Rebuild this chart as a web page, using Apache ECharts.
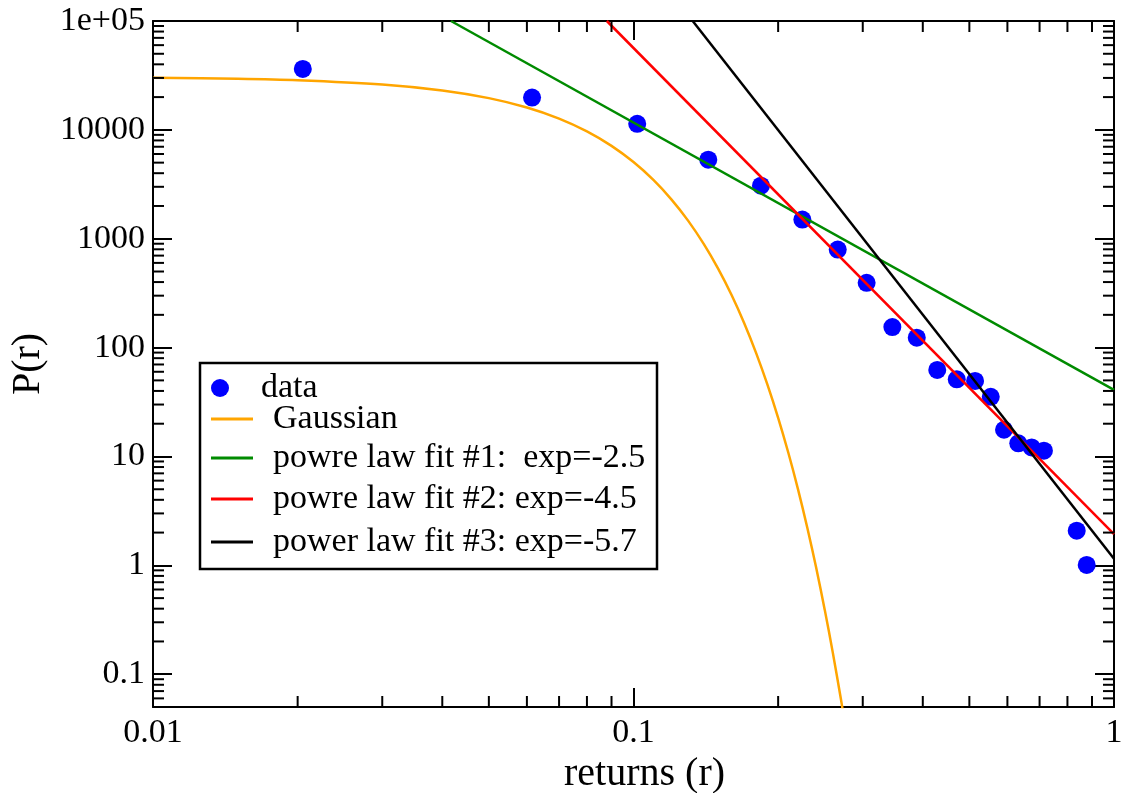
<!DOCTYPE html>
<html>
<head>
<meta charset="utf-8">
<script src="https://cdn.jsdelivr.net/npm/echarts@6/dist/echarts.min.js"></script>
<style>
  html, body { margin: 0; padding: 0; background: #fff; }
  #chart { width: 1130px; height: 793px; }
</style>
</head>
<body>
<div id="chart"></div>
<script>
// Measured return-size distribution
const returnsR = [0.0205, 0.0615, 0.1018, 0.1431, 0.1842, 0.2246, 0.2661, 0.3056, 0.3457, 0.3886,
                  0.4287, 0.4707, 0.5139, 0.554, 0.5903, 0.6322, 0.674, 0.7148, 0.8364, 0.8774];
const probR = [36300, 19800, 11370, 5320, 3073, 1500, 796, 394, 154.5, 123.5,
               62.3, 51.2, 49.4, 35.3, 17.6, 13.2, 12.1, 11.3, 2.08, 1.01];

// Gaussian reference curve
const gaussR = [0.01, 0.015, 0.02, 0.03, 0.04, 0.05, 0.06, 0.07, 0.08, 0.09, 0.10, 0.11, 0.12,
                0.13, 0.14, 0.15, 0.16, 0.17, 0.18, 0.19, 0.20, 0.21, 0.22, 0.23, 0.24, 0.25,
                0.26, 0.27, 0.275];
const gaussP = [30150, 29480, 28560, 26100, 23010, 19560, 16040, 12690, 9683, 7127, 5059, 3465, 2289,
                1459, 896, 531, 303.8, 167.5, 89.1, 45.7, 22.65, 10.82, 4.99, 2.214, 0.949, 0.392,
                0.1563, 0.0601, 0.0368];

// Power-law fits (straight lines on log-log axes)
const fit1R = [0.0417, 1];   const fit1P = [100000, 40.9];
const fit2R = [0.0880, 1];   const fit2P = [100000, 1.94];
const fit3R = [0.1328, 1];   const fit3P = [100000, 1.15];

const seriesNames = [
  'data',
  'Gaussian',
  'powre law fit #1:  exp=-2.5',
  'powre law fit #2: exp=-4.5',
  'power law fit #3: exp=-5.7'
];
const seriesColors = ['#0000ff', '#ffa500', '#008b00', '#ff0000', '#000000'];

const X_MIN = 0.01, X_MAX = 1, Y_MIN = 0.05, Y_MAX = 100000;

// Minor tick values: 2..9 within every decade
const xDecades = [0.01, 0.1];
const yDecades = [0.01, 0.1, 1, 10, 100, 1000, 10000];
const minorMults = [2, 3, 4, 5, 6, 7, 8, 9];
function minorTicks(decades, lo, hi) {
  const out = [];
  decades.forEach(d => minorMults.forEach(m => {
    const v = +(d * m).toPrecision(6);
    if (v > lo && v < hi) out.push(v);
  }));
  return out;
}
const xMinorTicks = minorTicks(xDecades, X_MIN, X_MAX);
const yMinorTicks = minorTicks(yDecades, Y_MIN, Y_MAX);

const FONT = '"Liberation Serif", "Times New Roman", serif';
const MAJOR_LEN = 19, MINOR_LEN = 11;

const pairs = (xs, ys) => xs.map((x, i) => [x, ys[i]]);

const tickStyle = { stroke: '#000', lineWidth: 2 };

function renderXMinor(params, api) {
  const v = api.value(0);
  const b = api.coord([v, Y_MIN]);
  const t = api.coord([v, Y_MAX]);
  return {
    type: 'group',
    children: [
      { type: 'line', shape: { x1: b[0], y1: b[1], x2: b[0], y2: b[1] - MINOR_LEN }, style: tickStyle },
      { type: 'line', shape: { x1: t[0], y1: t[1], x2: t[0], y2: t[1] + MINOR_LEN }, style: tickStyle }
    ]
  };
}
function renderYMinor(params, api) {
  const v = api.value(1);
  const l = api.coord([X_MIN, v]);
  const r = api.coord([X_MAX, v]);
  return {
    type: 'group',
    children: [
      { type: 'line', shape: { x1: l[0], y1: l[1], x2: l[0] + MINOR_LEN, y2: l[1] }, style: tickStyle },
      { type: 'line', shape: { x1: r[0], y1: r[1], x2: r[0] - MINOR_LEN, y2: r[1] }, style: tickStyle }
    ]
  };
}

const axisLineStyle = { show: true, lineStyle: { color: '#000', width: 2 } };
const axisTickStyle = { show: true, inside: true, length: MAJOR_LEN, lineStyle: { color: '#000', width: 2 } };

function fmt(v) {
  if (v >= 99999) return '1e+05';
  return String(parseFloat(Number(v).toPrecision(6)));
}

// One legend block per entry so the rows sit at their own heights
const legendRowCenters = [388, 419, 458, 499, 542];
const legends = seriesNames.map((name, i) => ({
  data: [name],
  left: 211,
  top: legendRowCenters[i] - 17,
  padding: 0,
  itemWidth: 42,
  itemHeight: i === 0 ? 18 : 3,
  icon: i === 0 ? 'circle' : 'rect',
  selectedMode: false,
  textStyle: { fontFamily: FONT, fontSize: 34, color: '#000', padding: [0, 0, 0, 15] }
}));

const chart = echarts.init(document.getElementById('chart'), null, { renderer: 'canvas' });

chart.setOption({
  animation: false,
  backgroundColor: '#fff',
  grid: { left: 153, right: 16, top: 21, bottom: 86, containLabel: false, outerBoundsMode: 'none' },
  legend: legends,
  graphic: [{
    type: 'rect',
    shape: { x: 200, y: 363, width: 457, height: 206 },
    style: { fill: '#fff', stroke: '#000', lineWidth: 2.5 },
    z: 0
  }],
  xAxis: [{
    type: 'log',
    logBase: 10,
    min: X_MIN,
    max: X_MAX,
    position: 'bottom',
    name: 'returns (r)',
    nameLocation: 'middle',
    nameGap: 36,
    nameTextStyle: { fontFamily: FONT, fontSize: 40, color: '#000', padding: [0, 0, 0, 22] },
    axisLine: axisLineStyle,
    axisTick: axisTickStyle,
    axisLabel: { fontFamily: FONT, fontSize: 34, color: '#000', margin: 9, formatter: fmt },
    splitLine: { show: false },
    minorTick: { show: false }
  }, {
    type: 'log',
    logBase: 10,
    min: X_MIN,
    max: X_MAX,
    position: 'top',
    axisLine: axisLineStyle,
    axisTick: axisTickStyle,
    axisLabel: { show: false },
    splitLine: { show: false }
  }],
  yAxis: [{
    type: 'log',
    logBase: 10,
    min: Y_MIN,
    max: Y_MAX,
    position: 'left',
    name: 'P(r)',
    nameLocation: 'middle',
    nameRotate: 90,
    nameGap: 104,
    nameTextStyle: { fontFamily: FONT, fontSize: 40, color: '#000' },
    axisLine: axisLineStyle,
    axisTick: axisTickStyle,
    axisLabel: { fontFamily: FONT, fontSize: 34, color: '#000', margin: 8, formatter: fmt, showMinLabel: false },
    splitLine: { show: false }
  }, {
    type: 'log',
    logBase: 10,
    min: Y_MIN,
    max: Y_MAX,
    position: 'right',
    axisLine: axisLineStyle,
    axisTick: axisTickStyle,
    axisLabel: { show: false },
    splitLine: { show: false }
  }],
  series: [
    {
      name: seriesNames[0],
      type: 'scatter',
      data: pairs(returnsR, probR),
      symbol: 'circle',
      symbolSize: 18,
      itemStyle: { color: seriesColors[0], opacity: 1 },
      z: 2
    },
    {
      name: seriesNames[1],
      type: 'line',
      data: pairs(gaussR, gaussP),
      showSymbol: false,
      symbol: 'none',
      smooth: 0.3,
      clip: true,
      lineStyle: { color: seriesColors[1], width: 2.5 },
      itemStyle: { color: seriesColors[1] },
      z: 3
    },
    {
      name: seriesNames[2],
      type: 'line',
      data: pairs(fit1R, fit1P),
      showSymbol: false,
      symbol: 'none',
      clip: true,
      lineStyle: { color: seriesColors[2], width: 2.5 },
      itemStyle: { color: seriesColors[2] },
      z: 3
    },
    {
      name: seriesNames[3],
      type: 'line',
      data: pairs(fit2R, fit2P),
      showSymbol: false,
      symbol: 'none',
      clip: true,
      lineStyle: { color: seriesColors[3], width: 2.5 },
      itemStyle: { color: seriesColors[3] },
      z: 3
    },
    {
      name: seriesNames[4],
      type: 'line',
      data: pairs(fit3R, fit3P),
      showSymbol: false,
      symbol: 'none',
      clip: true,
      lineStyle: { color: seriesColors[4], width: 2.5 },
      itemStyle: { color: seriesColors[4] },
      z: 3
    },
    {
      type: 'custom',
      silent: true,
      data: xMinorTicks.map(v => [v, 1]),
      renderItem: renderXMinor,
      z: 4
    },
    {
      type: 'custom',
      silent: true,
      data: yMinorTicks.map(v => [0.1, v]),
      renderItem: renderYMinor,
      z: 4
    }
  ]
});
</script>
</body>
</html>
